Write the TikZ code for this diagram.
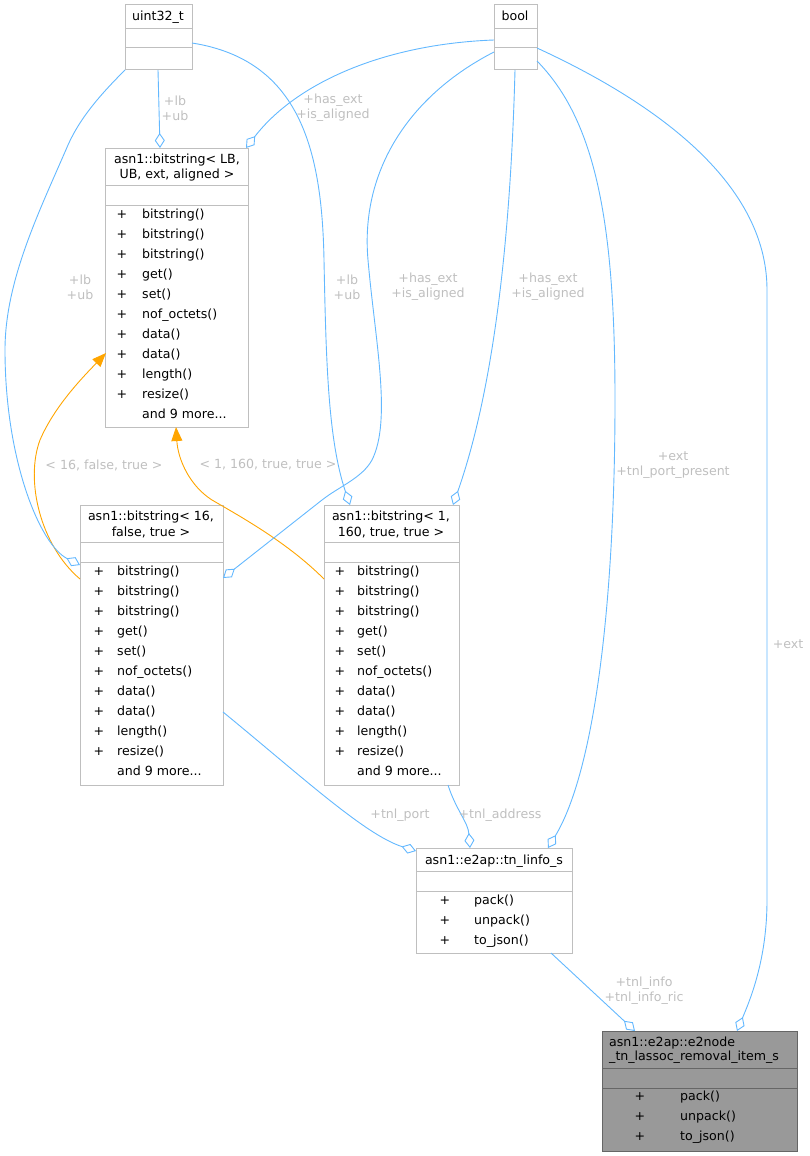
\documentclass[tikz,border=0pt]{standalone}
\usepackage{fontspec}
\setmainfont{DejaVu Sans}
\usetikzlibrary{arrows.meta,calc}
\definecolor{edgeblue}{HTML}{63B8FF}
\definecolor{inhorange}{HTML}{FFA500}
\definecolor{lblgray}{HTML}{BFBFBF}
\definecolor{boxgray}{HTML}{BFBFBF}
\definecolor{fillgray}{HTML}{999999}
\definecolor{bordergray}{HTML}{666666}
\begin{document}
\begin{tikzpicture}[x=1pt,y=-1pt,
  font=\fontsize{12.6}{15}\selectfont,
  box/.style={draw=boxgray, line width=1pt, fill=white, inner sep=0pt, outer sep=0pt, anchor=north west},
  mainbox/.style={draw=bordergray, line width=1pt, fill=fillgray, inner sep=0pt, outer sep=0pt, anchor=north west},
  sep/.style={draw=boxgray, line width=1pt},
  mainsep/.style={draw=bordergray, line width=1pt},
  ttl/.style={anchor=base, inner sep=0pt},
  ttll/.style={anchor=base west, inner sep=0pt},
  pls/.style={anchor=base, inner sep=0pt},
  mth/.style={anchor=base west, inner sep=0pt},
  lbl/.style={text=lblgray, align=center, inner sep=0pt},
  assoc/.style={draw=edgeblue, line width=0.9pt, -{Diamond[fill=white, length=15pt, width=10pt]}},
  inh/.style={draw=inhorange, line width=0.9pt, -{Triangle[length=14pt, width=11pt]}}
]
\useasboundingbox (0,0) rectangle (810,1156);

% ---------- boxes ----------
\node[box, minimum width=67pt, minimum height=65pt] (u) at (125,5) {};
\draw[sep] ($(u.north west)+(0,24)$) -- ($(u.north east)+(0,24)$);
\draw[sep] ($(u.north west)+(0,43)$) -- ($(u.north east)+(0,43)$);
\node[ttl] (ut) at (158,21) {uint32\_t};

\node[box, minimum width=43pt, minimum height=65pt] (b) at (494,5) {};
\draw[sep] ($(b.north west)+(0,24)$) -- ($(b.north east)+(0,24)$);
\draw[sep] ($(b.north west)+(0,43)$) -- ($(b.north east)+(0,43)$);
\node[ttl] (bt) at (515,21) {bool};

\node[box, minimum width=143pt, minimum height=279pt] (lb) at (105,148) {};
\draw[sep] ($(lb.north west)+(0,37)$) -- ($(lb.north east)+(0,37)$);
\draw[sep] ($(lb.north west)+(0,57)$) -- ($(lb.north east)+(0,57)$);
\node[ttl] (lbt1) at (177,163) {asn1::bitstring< LB,};
\node[ttl] (lbt2) at (177,178) {UB, ext, aligned >};
\foreach \m [count=\i from 0] in {bitstring(),bitstring(),bitstring(),get(),set(),nof\_octets(),data(),data(),length(),resize()}{
  \node[pls] (lbp\i) at (122,218+20*\i) {+};
  \node[mth] (lbm\i) at (142,218+20*\i) {\m};
}
\node[mth] (lbmore) at (142,418) {and 9 more...};

\node[box, minimum width=143pt, minimum height=280pt] (s16) at (80,505) {};
\draw[sep] ($(s16.north west)+(0,37)$) -- ($(s16.north east)+(0,37)$);
\draw[sep] ($(s16.north west)+(0,57)$) -- ($(s16.north east)+(0,57)$);
\node[ttl] (s16t1) at (151,520) {asn1::bitstring< 16,};
\node[ttl] (s16t2) at (151,536) {false, true >};
\foreach \m [count=\i from 0] in {bitstring(),bitstring(),bitstring(),get(),set(),nof\_octets(),data(),data(),length(),resize()}{
  \node[pls] (s16p\i) at (99,575+20*\i) {+};
  \node[mth] (s16m\i) at (117,575+20*\i) {\m};
}
\node[mth] (s16more) at (117,775) {and 9 more...};

\node[box, minimum width=135pt, minimum height=280pt] (s1) at (324,505) {};
\draw[sep] ($(s1.north west)+(0,37)$) -- ($(s1.north east)+(0,37)$);
\draw[sep] ($(s1.north west)+(0,57)$) -- ($(s1.north east)+(0,57)$);
\node[ttl] (s1t1) at (391,520) {asn1::bitstring< 1,};
\node[ttl] (s1t2) at (391,536) {160, true, true >};
\foreach \m [count=\i from 0] in {bitstring(),bitstring(),bitstring(),get(),set(),nof\_octets(),data(),data(),length(),resize()}{
  \node[pls] (s1p\i) at (340,575+20*\i) {+};
  \node[mth] (s1m\i) at (357,575+20*\i) {\m};
}
\node[mth] (s1more) at (357,775) {and 9 more...};

\node[box, minimum width=156pt, minimum height=105pt] (tn) at (416,848) {};
\draw[sep] ($(tn.north west)+(0,23)$) -- ($(tn.north east)+(0,23)$);
\draw[sep] ($(tn.north west)+(0,43)$) -- ($(tn.north east)+(0,43)$);
\node[ttl] (tnt) at (494,864) {asn1::e2ap::tn\_linfo\_s};
\foreach \m [count=\i from 0] in {pack(),unpack(),to\_json()}{
  \node[pls] (tnp\i) at (445,904+20*\i) {+};
  \node[mth] (tnm\i) at (474,904+20*\i) {\m};
}

\node[mainbox, minimum width=195pt, minimum height=120pt] (e2) at (602,1031) {};
\draw[mainsep] ($(e2.north west)+(0,37)$) -- ($(e2.north east)+(0,37)$);
\draw[mainsep] ($(e2.north west)+(0,57)$) -- ($(e2.north east)+(0,57)$);
\node[ttll] (e2t1) at (609,1046) {asn1::e2ap::e2node};
\node[ttll] (e2t2) at (609,1060) {\_tn\_lassoc\_removal\_item\_s};
\foreach \m [count=\i from 0] in {pack(),unpack(),to\_json()}{
  \node[pls] (e2p\i) at (640,1100+20*\i) {+};
  \node[mth] (e2m\i) at (680,1100+20*\i) {\m};
}

% ---------- inheritance ----------
\draw[inh] ($(s16.north west)+(0,74)$) .. controls (40,545) and (25,480) .. (40,440)
  .. controls (55,405) and (85,375) .. ($(lb.north west)+(1,205)$);
\draw[inh] ($(s1.north west)+(0,74)$) .. controls (288,543) and (243,518) .. (212,500)
  .. controls (190,486) and (178,460) .. ($(lb.south west)+(71,0)$);

% ---------- associations ----------
\draw[assoc] ($(u.south west)+(33,0)$) -- ($(lb.north west)+(55,0)$);
\draw[assoc] ($(b.north west)+(0,35)$) .. controls +(-110,4) and +(50,-65) .. ($(lb.north east)+(-2,0)$);
\draw[assoc] (u.south west) .. controls (100,95) and (80,118) .. (68,145)
  .. controls (40,210) and (5,280) .. (5,350)
  .. controls (5,460) and (40,545) .. ($(s16.north west)+(0,60)$);
\draw[assoc] ($(u.north east)+(0,38)$) .. controls (300,60) and (322,150) .. (324,260)
  .. controls (326,360) and (328,440) .. ($(s1.north west)+(26,0)$);
\draw[assoc] ($(b.north west)+(0,47)$) .. controls (410,95) and (360,170) .. (368,260)
  .. controls (375,340) and (392,420) .. (372,460)
  .. controls (362,478) and (340,486) .. (322,500) -- ($(s16.north east)+(0,73)$);
\draw[assoc] ($(b.south west)+(21,0)$) .. controls (510,260) and (490,400) .. ($(s1.north east)+(-6,0)$);
\draw[assoc] ($(b.north east)+(0,56)$) .. controls (595,120) and (615,220) .. (615,400)
  .. controls (615,600) and (595,770) .. ($(tn.north east)+(-24,0)$);
\draw[assoc] ($(b.north east)+(0,43)$) .. controls (650,100) and (767,180) .. (767,290)
  -- (767,900) .. controls (767,960) and (750,1000) .. ($(e2.north west)+(135,0)$);
\draw[assoc] ($(s16.north east)+(0,207)$) .. controls (300,775) and (365,835) .. ($(tn.north west)+(0,3)$);
\draw[assoc] ($(s1.south east)+(-11,0)$) .. controls (456,810) and (468,822) .. ($(tn.north west)+(54,0)$);
\draw[assoc] ($(tn.south east)+(-21,0)$) -- ($(e2.north west)+(33,0)$);

% ---------- labels ----------
\node[lbl] (l1) at (175,108) {+lb\\+ub};
\node[lbl] (l2) at (333,108) {+has\_ext\\+is\_aligned};
\node[lbl] (l3) at (80,287) {+lb\\+ub};
\node[lbl] (l4) at (347,287) {+lb\\+ub};
\node[lbl] (l5) at (428,287) {+has\_ext\\+is\_aligned};
\node[lbl] (l6) at (548,287) {+has\_ext\\+is\_aligned};
\node[lbl] (l7) at (673,465) {+ext\\+tnl\_port\_present};
\node[lbl] (l8) at (788,644) {+ext};
\node[lbl] (l9) at (400,815) {+tnl\_port};
\node[lbl] (l10) at (500,815) {+tnl\_address};
\node[lbl] (l11) at (644,991) {+tnl\_info\\+tnl\_info\_ric};
\node[lbl] (l12) at (104,465) {< 16, false, true >};
\node[lbl] (l13) at (268,465) {< 1, 160, true, true >};
\end{tikzpicture}
\end{document}
